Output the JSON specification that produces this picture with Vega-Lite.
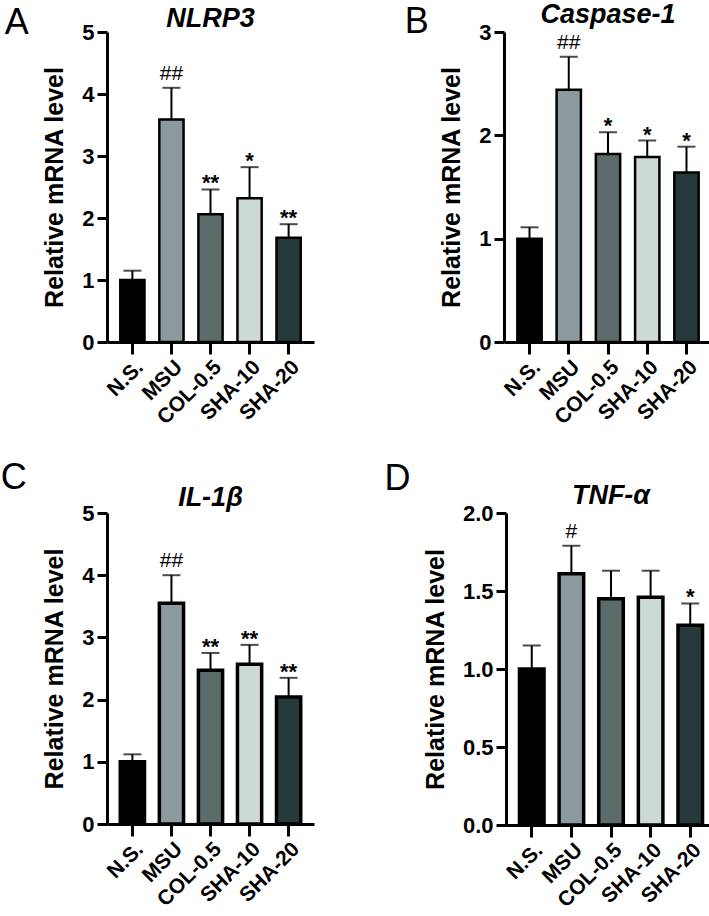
{
  "$schema": "https://vega.github.io/schema/vega-lite/v6.json",
  "padding": {"left": 0, "top": 1, "right": 0, "bottom": 0},
  "data": {
    "values": [
      {"panel": "A", "group": "N.S.", "value": 1.0, "err": 1.15, "sig": ""},
      {"panel": "A", "group": "MSU", "value": 3.59, "err": 4.1, "sig": "##"},
      {"panel": "A", "group": "COL-0.5", "value": 2.06, "err": 2.46, "sig": "**"},
      {"panel": "A", "group": "SHA-10", "value": 2.32, "err": 2.82, "sig": "*"},
      {"panel": "A", "group": "SHA-20", "value": 1.68, "err": 1.9, "sig": "**"},
      {"panel": "B", "group": "N.S.", "value": 1.0, "err": 1.11, "sig": ""},
      {"panel": "B", "group": "MSU", "value": 2.44, "err": 2.76, "sig": "##"},
      {"panel": "B", "group": "COL-0.5", "value": 1.82, "err": 2.03, "sig": "*"},
      {"panel": "B", "group": "SHA-10", "value": 1.79, "err": 1.95, "sig": "*"},
      {"panel": "B", "group": "SHA-20", "value": 1.64, "err": 1.89, "sig": "*"},
      {"panel": "C", "group": "N.S.", "value": 1.0, "err": 1.12, "sig": ""},
      {"panel": "C", "group": "MSU", "value": 3.55, "err": 4.0, "sig": "##"},
      {"panel": "C", "group": "COL-0.5", "value": 2.47, "err": 2.75, "sig": "**"},
      {"panel": "C", "group": "SHA-10", "value": 2.57, "err": 2.88, "sig": "**"},
      {"panel": "C", "group": "SHA-20", "value": 2.04, "err": 2.35, "sig": "**"},
      {"panel": "D", "group": "N.S.", "value": 1.0, "err": 1.15, "sig": ""},
      {"panel": "D", "group": "MSU", "value": 1.61, "err": 1.79, "sig": "#"},
      {"panel": "D", "group": "COL-0.5", "value": 1.45, "err": 1.63, "sig": ""},
      {"panel": "D", "group": "SHA-10", "value": 1.46, "err": 1.63, "sig": ""},
      {"panel": "D", "group": "SHA-20", "value": 1.28, "err": 1.42, "sig": "*"}
    ]
  },
  "vconcat": [
    {
      "hconcat": [
        {
          "title": {"text": "A", "orient": "left", "anchor": "end", "angle": 0, "align": "right", "baseline": "top", "fontSize": 36, "fontWeight": "normal", "fontStyle": "normal", "offset": -10, "dy": 1, "frame": "bounds"},
          "vconcat": [
            {
              "width": 207, "height": 310,
              "title": {"text": "NLRP3", "offset": -12, "frame": "group"},
              "transform": [{"filter": "datum.panel === 'A'"}],
              "encoding": {
                "x": {"field": "group", "type": "nominal", "sort": null, "title": null, "scale": {"paddingInner": 0.38, "paddingOuter": 0.34}}
              },
              "layer": [
                {"mark": {"type": "rule", "color": "black", "strokeWidth": 2}, "encoding": {"y": {"field": "value", "type": "quantitative", "title": "Relative mRNA level", "scale": {"domain": [0, 5]}}, "y2": {"field": "err"}}},
                {"mark": {"type": "tick", "color": "black", "thickness": 2, "size": 18}, "encoding": {"y": {"field": "err", "type": "quantitative", "title": "Relative mRNA level", "scale": {"domain": [0, 5]}}}},
                {"mark": {"type": "bar", "stroke": "black", "strokeWidth": 2.5}, "encoding": {
                  "y": {"field": "value", "type": "quantitative", "title": "Relative mRNA level", "scale": {"domain": [0, 5]}, "axis": {"values": [0, 1, 2, 3, 4, 5], "format": "d"}},
                  "color": {"field": "group", "type": "nominal", "sort": null, "legend": null, "scale": {"domain": ["N.S.", "MSU", "COL-0.5", "SHA-10", "SHA-20"], "range": ["#000000", "#8b9a9f", "#5a6b69", "#cdd9d3", "#263a3b"]}}}},
                {"transform": [{"filter": "indexof(datum.sig, '#') >= 0"}], "mark": {"type": "text", "fontSize": 21, "dy": -8, "baseline": "alphabetic", "color": "black"}, "encoding": {"y": {"field": "err", "type": "quantitative", "title": "Relative mRNA level", "scale": {"domain": [0, 5]}}, "text": {"field": "sig"}}},
                {"transform": [{"filter": "indexof(datum.sig, '*') >= 0"}], "mark": {"type": "text", "fontSize": 22, "fontWeight": "bold", "dy": 1, "baseline": "alphabetic", "color": "black"}, "encoding": {"y": {"field": "err", "type": "quantitative", "title": "Relative mRNA level", "scale": {"domain": [0, 5]}}, "text": {"field": "sig"}}}
              ]
            }
          ]
        },
        {
          "title": {"text": "B", "orient": "left", "anchor": "end", "angle": 0, "align": "right", "baseline": "top", "fontSize": 36, "fontWeight": "normal", "fontStyle": "normal", "offset": -13, "dy": 4, "frame": "bounds"},
          "vconcat": [
            {
              "width": 208, "height": 310,
              "title": {"text": "Caspase-1", "offset": -8, "frame": "group"},
              "transform": [{"filter": "datum.panel === 'B'"}],
              "encoding": {
                "x": {"field": "group", "type": "nominal", "sort": null, "title": null, "scale": {"paddingInner": 0.38, "paddingOuter": 0.34}}
              },
              "layer": [
                {"mark": {"type": "rule", "color": "black", "strokeWidth": 2}, "encoding": {"y": {"field": "value", "type": "quantitative", "title": "Relative mRNA level", "scale": {"domain": [0, 3]}}, "y2": {"field": "err"}}},
                {"mark": {"type": "tick", "color": "black", "thickness": 2, "size": 18}, "encoding": {"y": {"field": "err", "type": "quantitative", "title": "Relative mRNA level", "scale": {"domain": [0, 3]}}}},
                {"mark": {"type": "bar", "stroke": "black", "strokeWidth": 2.5}, "encoding": {
                  "y": {"field": "value", "type": "quantitative", "title": "Relative mRNA level", "scale": {"domain": [0, 3]}, "axis": {"values": [0, 1, 2, 3], "format": "d"}},
                  "color": {"field": "group", "type": "nominal", "sort": null, "legend": null, "scale": {"domain": ["N.S.", "MSU", "COL-0.5", "SHA-10", "SHA-20"], "range": ["#000000", "#8b9a9f", "#5a6b69", "#cdd9d3", "#263a3b"]}}}},
                {"transform": [{"filter": "indexof(datum.sig, '#') >= 0"}], "mark": {"type": "text", "fontSize": 21, "dy": -8, "baseline": "alphabetic", "color": "black"}, "encoding": {"y": {"field": "err", "type": "quantitative", "title": "Relative mRNA level", "scale": {"domain": [0, 3]}}, "text": {"field": "sig"}}},
                {"transform": [{"filter": "indexof(datum.sig, '*') >= 0"}], "mark": {"type": "text", "fontSize": 22, "fontWeight": "bold", "dy": 1, "baseline": "alphabetic", "color": "black"}, "encoding": {"y": {"field": "err", "type": "quantitative", "title": "Relative mRNA level", "scale": {"domain": [0, 3]}}, "text": {"field": "sig"}}}
              ]
            }
          ]
        }
      ],
      "spacing": 90
    },
    {
      "hconcat": [
        {
          "title": {"text": "C", "orient": "left", "anchor": "end", "angle": 0, "align": "right", "baseline": "top", "fontSize": 36, "fontWeight": "normal", "fontStyle": "normal", "offset": -10, "dy": -23, "frame": "bounds"},
          "vconcat": [
            {
              "width": 207, "height": 311,
              "title": {"text": "IL-1β", "offset": -10, "frame": "group"},
              "transform": [{"filter": "datum.panel === 'C'"}],
              "encoding": {
                "x": {"field": "group", "type": "nominal", "sort": null, "title": null, "scale": {"paddingInner": 0.38, "paddingOuter": 0.34}}
              },
              "layer": [
                {"mark": {"type": "rule", "color": "black", "strokeWidth": 2}, "encoding": {"y": {"field": "value", "type": "quantitative", "title": "Relative mRNA level", "scale": {"domain": [0, 5]}}, "y2": {"field": "err"}}},
                {"mark": {"type": "tick", "color": "black", "thickness": 2, "size": 18}, "encoding": {"y": {"field": "err", "type": "quantitative", "title": "Relative mRNA level", "scale": {"domain": [0, 5]}}}},
                {"mark": {"type": "bar", "stroke": "black", "strokeWidth": 3.5}, "encoding": {
                  "y": {"field": "value", "type": "quantitative", "title": "Relative mRNA level", "scale": {"domain": [0, 5]}, "axis": {"values": [0, 1, 2, 3, 4, 5], "format": "d"}},
                  "color": {"field": "group", "type": "nominal", "sort": null, "legend": null, "scale": {"domain": ["N.S.", "MSU", "COL-0.5", "SHA-10", "SHA-20"], "range": ["#000000", "#8b9a9f", "#5a6b69", "#cdd9d3", "#263a3b"]}}}},
                {"transform": [{"filter": "indexof(datum.sig, '#') >= 0"}], "mark": {"type": "text", "fontSize": 21, "dy": -8, "baseline": "alphabetic", "color": "black"}, "encoding": {"y": {"field": "err", "type": "quantitative", "title": "Relative mRNA level", "scale": {"domain": [0, 5]}}, "text": {"field": "sig"}}},
                {"transform": [{"filter": "indexof(datum.sig, '*') >= 0"}], "mark": {"type": "text", "fontSize": 22, "fontWeight": "bold", "dy": 1, "baseline": "alphabetic", "color": "black"}, "encoding": {"y": {"field": "err", "type": "quantitative", "title": "Relative mRNA level", "scale": {"domain": [0, 5]}}, "text": {"field": "sig"}}}
              ]
            }
          ]
        },
        {
          "title": {"text": "D", "orient": "left", "anchor": "end", "angle": 0, "align": "right", "baseline": "top", "fontSize": 36, "fontWeight": "normal", "fontStyle": "normal", "offset": -13, "dy": -20, "frame": "bounds"},
          "vconcat": [
            {
              "width": 210, "height": 312,
              "title": {"text": "TNF-α", "offset": -8, "frame": "group"},
              "transform": [{"filter": "datum.panel === 'D'"}],
              "encoding": {
                "x": {"field": "group", "type": "nominal", "sort": null, "title": null, "scale": {"paddingInner": 0.38, "paddingOuter": 0.34}}
              },
              "layer": [
                {"mark": {"type": "rule", "color": "black", "strokeWidth": 2}, "encoding": {"y": {"field": "value", "type": "quantitative", "title": "Relative mRNA level", "scale": {"domain": [0, 2]}}, "y2": {"field": "err"}}},
                {"mark": {"type": "tick", "color": "black", "thickness": 2, "size": 18}, "encoding": {"y": {"field": "err", "type": "quantitative", "title": "Relative mRNA level", "scale": {"domain": [0, 2]}}}},
                {"mark": {"type": "bar", "stroke": "black", "strokeWidth": 3.5}, "encoding": {
                  "y": {"field": "value", "type": "quantitative", "title": "Relative mRNA level", "scale": {"domain": [0, 2]}, "axis": {"values": [0, 0.5, 1, 1.5, 2], "format": ".1f"}},
                  "color": {"field": "group", "type": "nominal", "sort": null, "legend": null, "scale": {"domain": ["N.S.", "MSU", "COL-0.5", "SHA-10", "SHA-20"], "range": ["#000000", "#8b9a9f", "#5a6b69", "#cdd9d3", "#263a3b"]}}}},
                {"transform": [{"filter": "indexof(datum.sig, '#') >= 0"}], "mark": {"type": "text", "fontSize": 21, "dy": -8, "baseline": "alphabetic", "color": "black"}, "encoding": {"y": {"field": "err", "type": "quantitative", "title": "Relative mRNA level", "scale": {"domain": [0, 2]}}, "text": {"field": "sig"}}},
                {"transform": [{"filter": "indexof(datum.sig, '*') >= 0"}], "mark": {"type": "text", "fontSize": 22, "fontWeight": "bold", "dy": 1, "baseline": "alphabetic", "color": "black"}, "encoding": {"y": {"field": "err", "type": "quantitative", "title": "Relative mRNA level", "scale": {"domain": [0, 2]}}, "text": {"field": "sig"}}}
              ]
            }
          ]
        }
      ],
      "spacing": 70
    }
  ],
  "spacing": 32,
  "resolve": {"scale": {"color": "independent"}},
  "config": {
    "font": "Liberation Sans",
    "view": {"stroke": null},
    "axis": {"domainColor": "black", "domainWidth": 3, "tickColor": "black", "tickWidth": 3, "labelColor": "black", "labelFont": "Liberation Sans", "labelFontWeight": "bold", "labelFontSize": 22, "titleColor": "black", "titleFont": "Liberation Sans", "titleFontWeight": "bold", "titleFontSize": 25, "grid": false},
    "axisX": {"labelAngle": -45, "tickSize": 12, "labelFontSize": 21, "labelPadding": 2},
    "axisY": {"tickSize": 10, "titlePadding": 14, "labelPadding": 3},
    "title": {"font": "Liberation Sans", "fontSize": 27, "fontStyle": "italic", "fontWeight": "bold", "color": "black", "baseline": "alphabetic"}
  }
}
